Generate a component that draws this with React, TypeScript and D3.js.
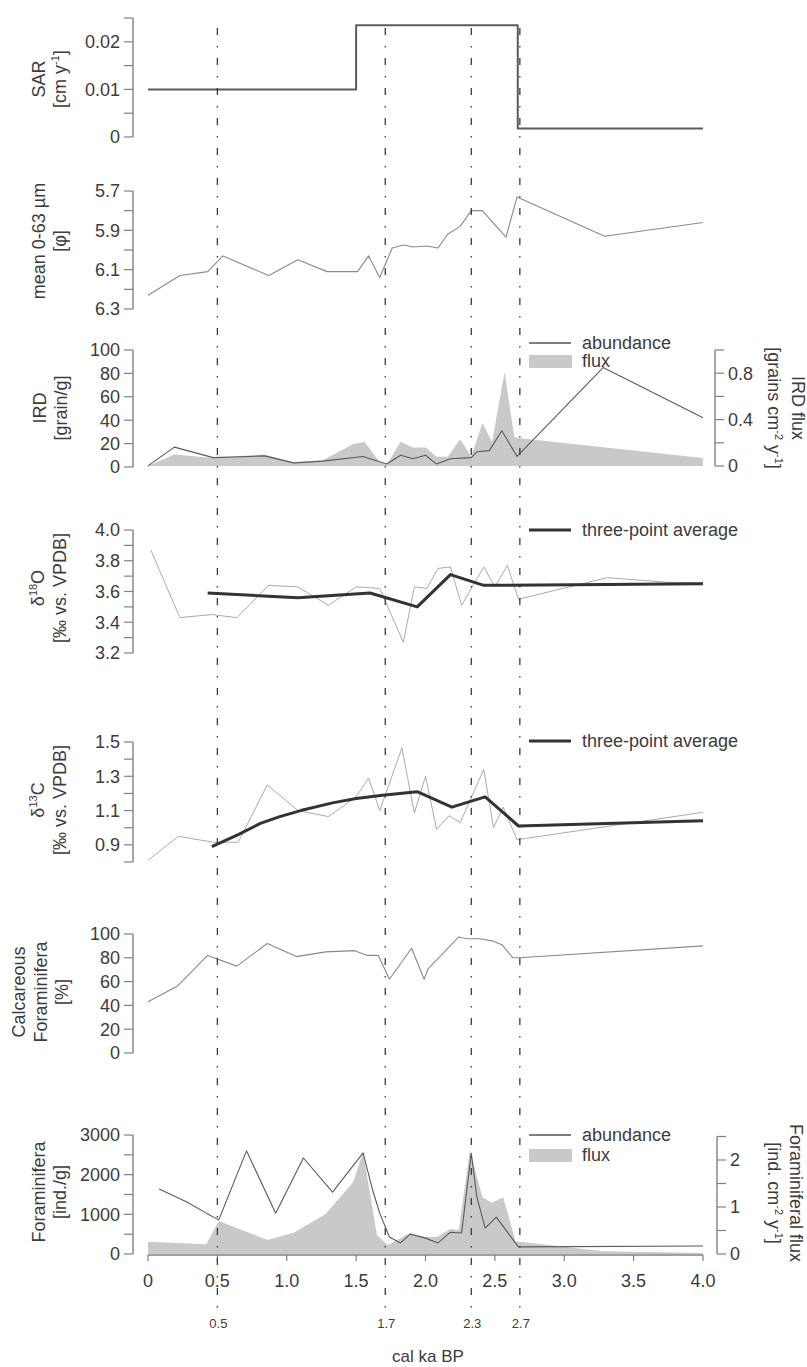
import React, { useEffect, useRef } from "react";
import * as d3 from "d3";

// sediment accumulation rate (step line)
const sarAge = [0.0, 1.5, 2.665, 4.0];
const sarVal = [0.01, 0.0235, 0.0018, 0.0018];

// mean grain size 0-63 µm [phi]
const grainAge = [0.0, 0.23, 0.43, 0.54, 0.87, 1.08, 1.29, 1.51, 1.59, 1.67, 1.76, 1.84, 1.91, 2.01, 2.09, 2.16, 2.25, 2.33, 2.41, 2.51, 2.58, 2.66, 3.29, 4.0];
const grainMean = [6.23, 6.13, 6.11, 6.03, 6.13, 6.05, 6.11, 6.11, 6.03, 6.14, 5.99, 5.975, 5.985, 5.98, 5.99, 5.92, 5.88, 5.8, 5.8, 5.88, 5.935, 5.73, 5.93, 5.86];

// IRD
const irdAge = [0.0, 0.19, 0.47, 0.84, 1.05, 1.26, 1.55, 1.72, 1.82, 1.91, 2.0, 2.08, 2.18, 2.33, 2.37, 2.46, 2.55, 2.66, 3.28, 4.0];
const irdAbund = [1, 17, 8, 9.5, 3.5, 5, 9, 2.5, 10, 7, 10, 2.5, 7, 8, 13, 14, 31, 9, 85, 42];
const irdFluxAge = [0.0, 0.19, 0.47, 0.84, 1.05, 1.26, 1.48, 1.56, 1.67, 1.72, 1.82, 1.91, 2.0, 2.08, 2.16, 2.25, 2.33, 2.41, 2.48, 2.57, 2.64, 2.68, 4.0];
const irdFlux = [0, 0.1, 0.07, 0.1, 0.03, 0.05, 0.19, 0.21, 0.035, 0.01, 0.21, 0.16, 0.16, 0.08, 0.08, 0.23, 0.08, 0.37, 0.21, 0.81, 0.25, 0.24, 0.07];

// d18O
const d18Age = [0.02, 0.23, 0.46, 0.64, 0.87, 1.08, 1.3, 1.5, 1.67, 1.84, 1.92, 2.01, 2.09, 2.18, 2.26, 2.42, 2.5, 2.59, 2.67, 3.31, 3.74, 4.0];
const d18Val = [3.87, 3.43, 3.45, 3.43, 3.64, 3.63, 3.51, 3.63, 3.62, 3.27, 3.63, 3.62, 3.75, 3.76, 3.51, 3.76, 3.63, 3.77, 3.55, 3.69, 3.66, 3.655];
const d18AvgAge = [0.43, 1.08, 1.6, 1.94, 2.18, 2.42, 4.0];
const d18Avg = [3.59, 3.56, 3.59, 3.5, 3.71, 3.64, 3.65];

// d13C
const d13Age = [0.0, 0.22, 0.47, 0.65, 0.86, 1.08, 1.3, 1.5, 1.59, 1.67, 1.83, 1.92, 2.0, 2.08, 2.17, 2.25, 2.42, 2.49, 2.56, 2.66, 4.0];
const d13Val = [0.81, 0.95, 0.915, 0.915, 1.25, 1.1, 1.065, 1.18, 1.29, 1.1, 1.465, 1.085, 1.3, 0.99, 1.07, 1.03, 1.34, 1.0, 1.12, 0.93, 1.09];
const d13AvgAge = [0.46, 0.65, 0.81, 0.95, 1.1, 1.33, 1.5, 1.69, 1.94, 2.19, 2.43, 2.67, 4.0];
const d13Avg = [0.89, 0.96, 1.025, 1.065, 1.1, 1.145, 1.17, 1.19, 1.21, 1.12, 1.18, 1.01, 1.04];

// calcareous foraminifera [%]
const calcAge = [0.0, 0.21, 0.43, 0.64, 0.86, 1.07, 1.28, 1.49, 1.58, 1.66, 1.74, 1.9, 1.99, 2.02, 2.24, 2.3, 2.39, 2.49, 2.55, 2.63, 2.68, 4.0];
const calcVal = [43, 56, 82, 73, 92, 81, 85, 86, 82, 82, 62, 88, 62, 71, 97.5, 96, 96, 94, 91, 80, 80, 90];

// foraminifera abundance and flux
const foramAge = [0.08, 0.28, 0.42, 0.51, 0.71, 0.92, 1.12, 1.33, 1.55, 1.62, 1.67, 1.74, 1.82, 1.89, 2.0, 2.09, 2.18, 2.26, 2.33, 2.37, 2.43, 2.51, 2.59, 2.67, 4.0];
const foramVal = [1640, 1310, 1030, 860, 2600, 1030, 2420, 1560, 2550, 1600, 1030, 430, 280, 500, 400, 280, 550, 530, 2540, 1440, 650, 930, 550, 180, 200];
const foramFluxAge = [0.0, 0.42, 0.51, 0.86, 1.05, 1.28, 1.48, 1.55, 1.65, 1.73, 1.89, 2.0, 2.08, 2.18, 2.24, 2.32, 2.41, 2.48, 2.56, 2.65, 2.68, 3.28, 4.0];
const foramFlux = [0.26, 0.21, 0.7, 0.3, 0.45, 0.85, 1.53, 2.17, 0.4, 0.19, 0.45, 0.36, 0.36, 0.53, 0.51, 2.21, 1.21, 1.09, 1.21, 0.26, 0.26, 0.06, 0.02];

// x axis and marker lines
const xTicks = [0, 0.5, 1, 1.5, 2, 2.5, 3, 3.5, 4];
const xTickLabels = ["0", "0.5", "1.0", "1.5", "2.0", "2.5", "3.0", "3.5", "4.0"];
const eventAge = [0.5, 1.71, 2.33, 2.68];
const eventLabels = ["0.5", "1.7", "2.3", "2.7"];

const FONT = "'Liberation Sans', Arial, Helvetica, sans-serif";
const TXT = "#3c3c3c";
const AX = "#808080";
const FILL = "#c9c9c9";

const zip = (a, b) => a.map((v, i) => [v, b[i]]);

const App = () => {
  const svgRef = useRef(null);

  useEffect(() => {
    const svg = d3.select(svgRef.current);
    svg.selectAll("*").remove();
    svg.attr("font-family", FONT);

    const x = d3.scaleLinear().domain([0, 4]).range([148, 703]);

    const vAxis = (scale, xPos, side, ticks, labels, fmt) => {
      const g = svg.append("g");
      const r = scale.range();
      g.append("line").attr("x1", xPos).attr("x2", xPos).attr("y1", r[0]).attr("y2", r[1])
        .attr("stroke", AX).attr("stroke-width", 1.4);
      const dir = side === "left" ? -1 : 1;
      ticks.forEach((t) => {
        g.append("line").attr("x1", xPos).attr("x2", xPos + dir * 9)
          .attr("y1", scale(t)).attr("y2", scale(t)).attr("stroke", AX).attr("stroke-width", 1.2);
      });
      labels.forEach((t) => {
        g.append("text").attr("x", xPos + dir * 13).attr("y", scale(t)).attr("dy", "0.36em")
          .attr("text-anchor", side === "left" ? "end" : "start")
          .attr("font-size", 18).attr("fill", TXT).text(fmt(t));
      });
    };

    // parts: array of [text, isSuperscript]
    const rotLabel = (bx, cy, angle, parts) => {
      const t = svg.append("text").attr("transform", `translate(${bx},${cy}) rotate(${angle})`)
        .attr("text-anchor", "middle").attr("font-size", 18).attr("fill", TXT);
      let up = false;
      parts.forEach(([s, sup]) => {
        const sp = t.append("tspan").text(s);
        if (sup && !up) { sp.attr("dy", -7).attr("font-size", 11); up = true; }
        else if (sup) sp.attr("font-size", 11);
        else if (up) { sp.attr("dy", 7); up = false; }
      });
    };

    const linePath = (ages, vals, y, color, width, curve = d3.curveLinear) => {
      svg.append("path").datum(zip(ages, vals))
        .attr("d", d3.line().x((d) => x(d[0])).y((d) => y(d[1])).curve(curve))
        .attr("fill", "none").attr("stroke", color).attr("stroke-width", width)
        .attr("stroke-linejoin", "round");
    };

    const areaPath = (ages, vals, y) => {
      svg.append("path").datum(zip(ages, vals))
        .attr("d", d3.area().x((d) => x(d[0])).y0(y(0)).y1((d) => y(d[1])))
        .attr("fill", FILL).attr("stroke", "none");
    };

    const legendLine = (y, label, width, color) => {
      svg.append("line").attr("x1", 529).attr("x2", 571).attr("y1", y).attr("y2", y)
        .attr("stroke", color).attr("stroke-width", width);
      svg.append("text").attr("x", 582).attr("y", y + 5.5).attr("font-size", 18).attr("fill", TXT).text(label);
    };
    const legendBox = (y, label) => {
      svg.append("rect").attr("x", 529).attr("y", y - 6).attr("width", 43).attr("height", 13).attr("fill", FILL);
      svg.append("text").attr("x", 582).attr("y", y + 6).attr("font-size", 18).attr("fill", TXT).text(label);
    };

    const steps = (a, b, s) => d3.range(Math.round((b - a) / s) + 1).map((i) => +(a + i * s).toFixed(4));

    // --- SAR ---
    const ySar = d3.scaleLinear().domain([0, 0.025]).range([137, 18]);
    vAxis(ySar, 133, "left", steps(0, 0.025, 0.005), [0, 0.01, 0.02], (d) => (d === 0 ? "0" : d.toFixed(2)));
    linePath(sarAge, sarVal, ySar, "#5c5c5c", 2, d3.curveStepAfter);
    rotLabel(45, 79, -90, [["SAR", false]]);
    rotLabel(66, 79, -90, [["[cm y", false], ["-1", true], ["]", false]]);

    // --- grain size ---
    const yGrain = d3.scaleLinear().domain([5.7, 6.3]).range([191, 309]);
    vAxis(yGrain, 133, "left", steps(5.7, 6.3, 0.1), [5.7, 5.9, 6.1, 6.3], (d) => d.toFixed(1));
    linePath(grainAge, grainMean, yGrain, "#8a8a8a", 1.1);
    rotLabel(45, 241, -90, [["mean 0-63 µm", false]]);
    rotLabel(66, 241, -90, [["[φ]", false]]);

    // --- IRD ---
    const yIrd = d3.scaleLinear().domain([0, 100]).range([467, 350]);
    const yIrdFlux = d3.scaleLinear().domain([0, 1]).range([466, 350]);
    areaPath(irdFluxAge, irdFlux, yIrdFlux);
    linePath(irdAge, irdAbund, yIrd, "#5a5a5a", 1.1);
    vAxis(yIrd, 133, "left", steps(0, 100, 20), steps(0, 100, 20), (d) => String(d));
    vAxis(yIrdFlux, 715, "right", steps(0, 1, 0.2), [0, 0.4, 0.8], (d) => (d === 0 ? "0" : d.toFixed(1)));
    rotLabel(46, 408, -90, [["IRD", false]]);
    rotLabel(67, 408, -90, [["[grain/g]", false]]);
    rotLabel(792, 408, 90, [["IRD flux", false]]);
    rotLabel(768, 408, 90, [["[grains cm", false], ["-2", true], [" y", false], ["-1", true], ["]", false]]);
    legendLine(343, "abundance", 1.3, "#555");
    legendBox(361, "flux");

    // --- d18O ---
    const y18 = d3.scaleLinear().domain([3.2, 4.0]).range([653, 530]);
    vAxis(y18, 133, "left", steps(3.2, 4.0, 0.1), [3.2, 3.4, 3.6, 3.8, 4.0], (d) => d.toFixed(1));
    linePath(d18Age, d18Val, y18, "#a0a0a0", 0.9);
    linePath(d18AvgAge, d18Avg, y18, "#333", 3);
    rotLabel(44, 588, -90, [["δ", false], ["18", true], ["O", false]]);
    rotLabel(66, 588, -90, [["[‰ vs. VPDB]", false]]);
    legendLine(530, "three-point average", 3, "#333");

    // --- d13C ---
    const y13 = d3.scaleLinear().domain([0.8, 1.5]).range([862, 742]);
    vAxis(y13, 133, "left", steps(0.8, 1.5, 0.1), [0.9, 1.1, 1.3, 1.5], (d) => d.toFixed(1));
    linePath(d13Age, d13Val, y13, "#a0a0a0", 0.9);
    linePath(d13AvgAge, d13Avg, y13, "#333", 3);
    rotLabel(44, 800, -90, [["δ", false], ["13", true], ["C", false]]);
    rotLabel(66, 800, -90, [["[‰ vs. VPDB]", false]]);
    legendLine(741, "three-point average", 3, "#333");

    // --- calcareous foraminifera ---
    const yCalc = d3.scaleLinear().domain([0, 100]).range([1053, 934]);
    vAxis(yCalc, 133, "left", steps(0, 100, 20), steps(0, 100, 20), (d) => String(d));
    linePath(calcAge, calcVal, yCalc, "#8a8a8a", 1.1);
    rotLabel(25, 992, -90, [["Calcareous", false]]);
    rotLabel(47, 992, -90, [["Foraminifera", false]]);
    rotLabel(68, 992, -90, [["[%]", false]]);

    // --- foraminifera ---
    const yForam = d3.scaleLinear().domain([0, 3000]).range([1254, 1135]);
    const yForamFlux = d3.scaleLinear().domain([0, 2.5]).range([1254, 1136.5]);
    areaPath(foramFluxAge, foramFlux, yForamFlux);
    linePath(foramAge, foramVal, yForam, "#5a5a5a", 1.1);
    vAxis(yForam, 133, "left", steps(0, 3000, 500), [0, 1000, 2000, 3000], (d) => String(d));
    vAxis(yForamFlux, 717, "right", steps(0, 2.5, 0.5), [0, 1, 2], (d) => String(d));
    rotLabel(45, 1192, -90, [["Foraminifera", false]]);
    rotLabel(66, 1192, -90, [["[ind./g]", false]]);
    rotLabel(790, 1193, 90, [["Foraminiferal flux", false]]);
    rotLabel(768, 1193, 90, [["[ind. cm", false], ["-2", true], [" y", false], ["-1", true], ["]", false]]);
    legendLine(1135, "abundance", 1.3, "#555");
    legendBox(1155, "flux");

    // --- x axis ---
    const xg = svg.append("g");
    xg.append("line").attr("x1", x(0)).attr("x2", x(4)).attr("y1", 1255).attr("y2", 1255)
      .attr("stroke", AX).attr("stroke-width", 1.4);
    xTicks.forEach((t, i) => {
      xg.append("line").attr("x1", x(t)).attr("x2", x(t)).attr("y1", 1255).attr("y2", 1261)
        .attr("stroke", AX).attr("stroke-width", 1.2);
      xg.append("text").attr("x", x(t)).attr("y", 1287).attr("text-anchor", "middle")
        .attr("font-size", 18).attr("fill", TXT).text(xTickLabels[i]);
    });
    svg.append("text").attr("x", 428).attr("y", 1362).attr("text-anchor", "middle")
      .attr("font-size", 17).attr("fill", TXT).text("cal ka BP");

    // --- event lines ---
    eventAge.forEach((a, i) => {
      svg.append("line").attr("x1", x(a)).attr("x2", x(a)).attr("y1", 28).attr("y2", 1312)
        .attr("stroke", "#3a3a3a").attr("stroke-width", 1.3).attr("stroke-dasharray", "7,11,1.5,10.5");
      svg.append("text").attr("x", x(a) + 1).attr("y", 1328).attr("text-anchor", "middle")
        .attr("font-size", 13).attr("fill", TXT).text(eventLabels[i]);
    });
  }, []);

  return (
    <svg ref={svgRef} width={807} height={1367}
      style={{ position: "absolute", left: 0, top: 0, background: "#fff" }} />
  );
};

export default App;
